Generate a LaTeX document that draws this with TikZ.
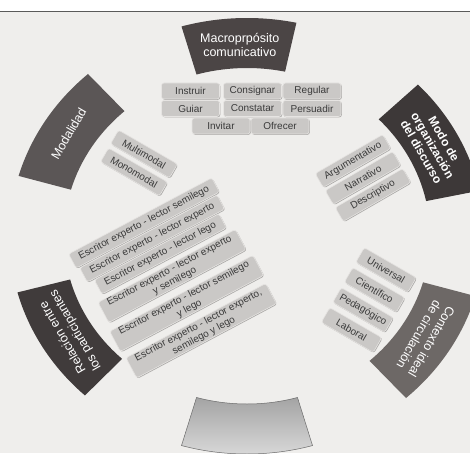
\documentclass[tikz,border=0pt]{standalone}
\usepackage{fontspec}
\setmainfont{Liberation Sans}
\usetikzlibrary{shadows}
\definecolor{bg}{HTML}{EFEEEC}
\definecolor{topline}{HTML}{5A5A5A}
\definecolor{secA}{HTML}{4B4545}
\definecolor{secB}{HTML}{5B5656}
\definecolor{secC}{HTML}{3D3838}
\definecolor{secD}{HTML}{6D6866}
\definecolor{secE}{HTML}{403B3B}
\definecolor{secFtop}{HTML}{A4A4A4}
\definecolor{secFbot}{HTML}{DADADA}
\definecolor{secFedge}{HTML}{6A6A6A}
\definecolor{boxfill}{HTML}{CAC8C6}
\definecolor{boxedge}{HTML}{E6E4E2}
\definecolor{boxshadow}{HTML}{8E8C8A}
\definecolor{boxtext}{HTML}{3A3A3A}
\newcommand\ringsector[3]{%
  (#1:218) arc[start angle=#1, end angle=#2, radius=218] -- (#2:168) arc[start angle=#2, end angle=#1, radius=168] -- cycle}
\begin{document}
\begin{tikzpicture}[x=1pt,y=1pt,
  opt/.style={draw=boxedge, line width=0.6pt, fill=boxfill, rounded corners=2.5pt, text=boxtext,
    font=\fontsize{10}{11.5}\selectfont, inner xsep=3pt, inner ysep=1pt, minimum height=16pt, align=center,
    drop shadow={shadow xshift=0.8pt, shadow yshift=-0.8pt, fill=boxshadow, opacity=0.7}},
  topbox/.style={opt, minimum width=58pt},
  modbox/.style={opt, minimum width=68pt, rotate=-30},
  modobox/.style={opt, minimum width=78pt, rotate=30},
  ctxbox/.style={opt, minimum width=60pt, minimum height=17pt, rotate=-30},
  relbox/.style={opt, inner xsep=8pt, rotate=28},
  ttl/.style={text=white, font=\fontsize{12.5}{14.5}\selectfont, align=center}]
\useasboundingbox (0,0) rectangle (470,453);
\fill[bg] (0,0) rectangle (470,453);
\fill[white] (0,442) rectangle (470,453);
\draw[topline, line width=0.8pt] (0,442) -- (470,442);

\begin{scope}[shift={(247,217)}, xscale=1.09]
  \fill[secA] \ringsector{78}{106}{};
  \fill[secC] \ringsector{12}{44}{};
  \fill[secD] \ringsector{-48}{-16}{};
  \path[top color=secFtop, bottom color=secFbot, draw=secFedge, line width=0.5pt] \ringsector{254}{286}{};
  \fill[secE] \ringsector{195}{227}{};
  \fill[secB] \ringsector{132}{164}{};

  \node[ttl] (ttop) at (92:191) {Macroprpósito\\comunicativo};
  \node[ttl, rotate=60] (tmod) at (148:193) {Modalidad};
  \node[ttl, font=\fontsize{12}{13}\selectfont\bfseries, rotate=-60] (tmodo) at (28:193) {Modo de\\organización\\del discurso};
  \node[ttl, rotate=-120] (tctx) at (-32:193) {Contexto ideal\\de circulación};
  \node[ttl, rotate=120] (trel) at (211:190) {Relación entre\\los participantes};
\end{scope}

% Macropropósito
\node[topbox] (instruir) at (190.5,362) {Instruir};
\node[topbox] (consignar) at (252.5,362) {Consignar};
\node[topbox] (regular) at (312,362) {Regular};
\node[topbox] (guiar) at (190.5,344.5) {Guiar};
\node[topbox] (constatar) at (252.5,344.5) {Constatar};
\node[topbox] (persuadir) at (312,344.5) {Persuadir};
\node[topbox] (invitar) at (221,327) {Invitar};
\node[topbox] (ofrecer) at (280,327) {Ofrecer};

% Modalidad
\node[modbox] (multimodal) at (144,299) {Multimodal};
\node[modbox] (monomodal) at (134,281) {Monomodal};

% Modo de organización
\node[modobox] (argumentativo) at (353,292) {Argumentativo};
\node[modobox] (narrativo) at (363,275) {Narrativo};
\node[modobox] (descriptivo) at (373,258) {Descriptivo};

% Contexto ideal
\node[ctxbox] (universal) at (386,183) {Universal};
\node[ctxbox] (cientifico) at (374.5,163) {Científico};
\node[ctxbox] (pedagogico) at (363,143) {Pedagógico};
\node[ctxbox] (laboral) at (351.5,123) {Laboral};

% Relación entre los participantes
\node[relbox] (rel1) at (144,230) {Escritor experto - lector semilego};
\node[relbox] (rel2) at (152.2,214.5) {Escritor experto - lector experto};
\node[relbox] (rel3) at (160.4,199.1) {Escritor experto - lector lego};
\node[relbox] (rel4) at (172.1,177) {Escritor experto - lector experto\\y semilego};
\node[relbox] (rel5) at (186.7,149.6) {Escritor experto - lector semilego\\y lego};
\node[relbox] (rel6) at (201.2,122.3) {Escritor experto - lector experto,\\semilego y lego};
\end{tikzpicture}
\end{document}
